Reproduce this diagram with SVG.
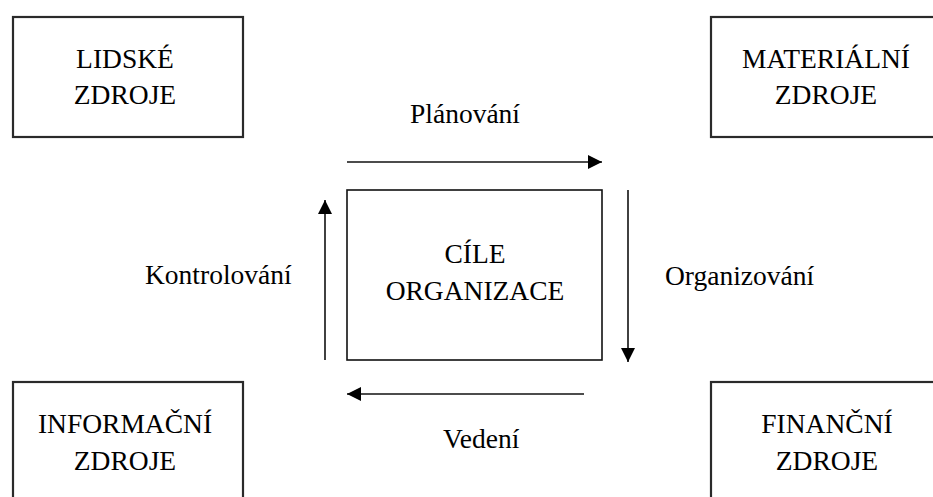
<svg xmlns="http://www.w3.org/2000/svg" width="933" height="497" viewBox="0 0 933 497">
<style>
.box{fill:#fff;stroke:#2a2a2a;stroke-width:2.2}
.cbox{fill:#fff;stroke:#111;stroke-width:1.6}
.t{font-family:"Liberation Serif","Times New Roman",serif;font-size:27.5px;fill:#000;text-anchor:middle}
.lbl{font-family:"Liberation Serif","Times New Roman",serif;font-size:27.5px;fill:#000}
.c{stroke:#111;stroke-width:1.6;fill:none;marker-end:url(#ah)}
</style>
<defs>
<marker id="ah" markerUnits="userSpaceOnUse" markerWidth="16" markerHeight="16" refX="14" refY="7" orient="auto">
<path d="M0,0 L14,7 L0,14 Z" fill="#000"/>
</marker>
</defs>
<rect width="933" height="497" fill="#fff"/>
<g id="lidske">
<rect class="box" x="13" y="17" width="230" height="120"/>
<text class="t" x="125" y="68">LIDSKÉ</text>
<text class="t" x="125" y="104">ZDROJE</text>
</g>
<g id="materialni">
<rect class="box" x="711" y="17" width="240" height="120"/>
<text class="t" x="826" y="68">MATERIÁLNÍ</text>
<text class="t" x="826" y="104">ZDROJE</text>
</g>
<g id="informacni">
<rect class="box" x="13" y="382" width="230" height="130"/>
<text class="t" x="125" y="433">INFORMAČNÍ</text>
<text class="t" x="125" y="470">ZDROJE</text>
</g>
<g id="financni">
<rect class="box" x="711" y="382" width="240" height="130"/>
<text class="t" x="827" y="433">FINANČNÍ</text>
<text class="t" x="827" y="470">ZDROJE</text>
</g>
<g id="cile">
<rect class="cbox" x="347" y="190" width="255" height="170"/>
<text class="t" x="475" y="263">CÍLE</text>
<text class="t" x="475" y="300">ORGANIZACE</text>
</g>
<g id="connectors">
<line class="c" x1="347" y1="162" x2="602" y2="162"/>
<line class="c" x1="628" y1="190" x2="628" y2="362"/>
<line class="c" x1="584" y1="394" x2="347" y2="394"/>
<line class="c" x1="325" y1="360" x2="325" y2="200"/>
</g>
<g id="labels">
<text class="lbl" x="410" y="123">Plánování</text>
<text class="lbl" x="665" y="285">Organizování</text>
<text class="lbl" x="443" y="448">Vedení</text>
<text class="lbl" x="145" y="284">Kontrolování</text>
</g>
</svg>
